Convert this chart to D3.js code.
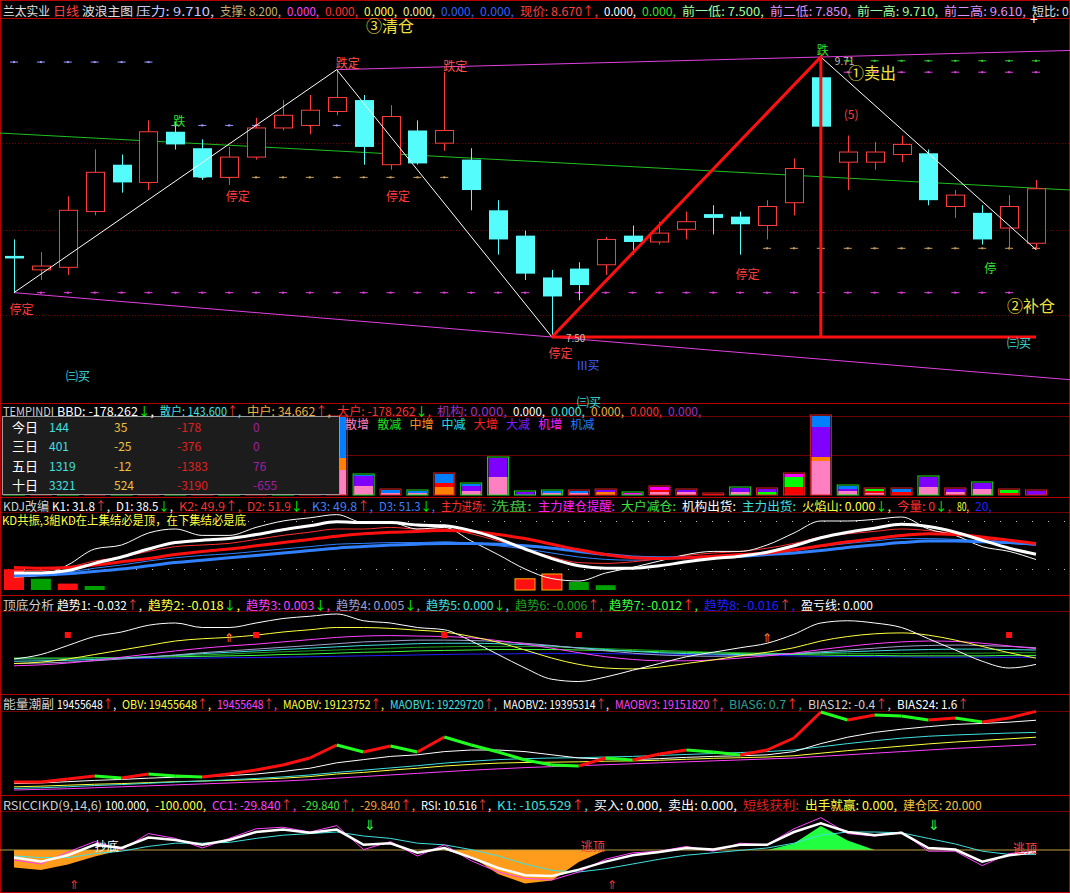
<!DOCTYPE html>
<html><head><meta charset="utf-8">
<script src="https://cdn.jsdelivr.net/npm/d3@7/dist/d3.min.js"></script>
<style>
body{margin:0;background:#000;}
svg{display:block;}
text{font-family:"Noto Sans CJK SC","Noto Sans",sans-serif;font-size:12px;}
</style></head><body>
<svg id="c" width="1070" height="893"></svg>
<script>
// ---------------- DATA ----------------
const opens =[8.14,8.03,8.05,8.49,8.86,8.72,9.12,8.99,8.76,8.92,9.15,9.17,9.28,9.37,8.86,9.13,9.03,8.90,8.50,8.30,7.97,8.04,8.07,8.30,8.25,8.35,8.47,8.45,8.38,8.56,9.55,8.88,8.88,8.94,8.95,8.53,8.48,8.36,8.24];
const highs =[8.27,8.17,8.61,8.98,8.94,9.21,9.20,9.06,9.00,9.23,9.37,9.41,9.61,9.41,9.33,9.21,9.59,8.99,8.58,8.34,8.03,8.09,8.29,8.38,8.41,8.49,8.54,8.49,8.58,8.91,9.71,9.09,9.04,9.09,8.98,8.66,8.54,8.62,8.74];
const lows  =[7.85,7.95,7.99,8.46,8.64,8.66,8.98,8.74,8.70,8.90,9.13,9.10,9.25,8.86,8.82,8.86,8.97,8.50,8.15,7.95,7.50,7.79,7.99,8.15,8.23,8.27,8.31,8.15,8.27,8.46,9.13,8.66,8.82,8.88,8.54,8.44,8.23,8.19,8.19];
const closes=[8.12,8.06,8.50,8.80,8.72,9.12,9.02,8.76,8.92,9.15,9.25,9.29,9.39,9.00,9.24,8.87,9.13,8.66,8.27,8.00,7.82,7.91,8.27,8.25,8.32,8.41,8.44,8.39,8.53,8.83,9.16,8.96,8.96,9.02,8.58,8.62,8.27,8.53,8.67];

const waveIdx=[0,12,20,30,38];
const waveVal=[7.85,9.61,7.50,9.71,8.19];
const greenIdx=[-0.55,39.3];
const greenVal=[9.11,8.66];
const levStart=[0,6,7,1,31,31,28];
const levEnd  =[5,12,16,37,38,38,38];
const levVal  =[9.67,9.17,8.76,7.85,9.59,9.68,8.20];

const tPink  =[5,4,6,3,5,4,3,6,4,5,6,8,25,9,2,2,0,4,18,0,2,2,0,0,3,3,0,3,0,0,34,4,2,0,8,3,6,0,0];
const tOrange=[0,2,0,0,3,0,0,0,2,0,0,3,12,0,0,0,8,0,0,0,0,0,3,0,0,0,0,0,0,0,4,0,0,0,0,0,0,0,0];
const tRed   =[0,0,2,0,0,0,2,0,0,0,0,0,0,0,0,0,4,0,0,0,0,0,0,0,2,0,1,0,0,8,0,0,2,3,0,0,0,2,0];
const tGreen =[0,0,0,2,0,0,0,0,0,0,0,0,0,0,0,0,0,0,0,0,0,0,0,0,0,0,0,0,3,10,0,0,2,0,0,0,0,3,0];
const tPurple=[3,2,4,2,3,5,2,3,2,4,3,5,0,10,0,0,0,5,19,3,0,0,2,0,0,2,0,4,3,0,30,2,0,0,10,3,6,0,4];
const tBlue  =[2,0,0,3,0,2,0,0,3,0,2,0,41,1,3,2,9,2,0,0,2,2,0,0,0,0,0,0,0,0,11,3,0,3,0,0,0,0,0];
const tMag   =[0,0,0,0,0,0,0,0,0,0,0,0,0,0,0,0,0,0,0,0,0,0,0,2,3,0,0,0,0,3,0,0,0,0,0,0,0,0,0];
const bbdUp  =[1,0,1,0,1,0,1,0,1,0,1,0,0,1,0,1,0,1,1,1,1,0,0,1,0,0,0,1,0,0,0,1,0,0,1,0,1,0,0];
const tableRows=["今日","三日","五日","十日"];
const tableRetail=[144,401,1319,3321];
const tableMid=[35,-25,-12,524];
const tableBig=[-178,-376,-1383,-3190];
const tableInst=[0,0,76,-655];
const legendNames=["散增","散减","中增","中减","大增","大减","机增","机减"];

const kdjK1=[10,12,25,45,50,65,70,62,62,72,80,84,88,78,78,70,72,55,38,20,8,5,15,22,30,38,42,42,50,65,80,80,82,85,70,62,48,42,31.8];
const kdjD1=[15,15,18,27,35,45,53,56,58,63,69,74,79,78,78,75,74,68,58,45,33,24,21,21,24,29,33,36,41,49,59,66,71,76,73,66,56,46,38.5];
const kdjK2=[18,18,22,30,35,42,48,50,52,57,62,66,70,70,72,70,70,64,55,45,35,28,27,29,33,37,40,42,46,52,60,64,67,70,68,64,58,53,49.9];
const kdjD2=[22,21,22,25,29,33,38,42,45,49,53,57,61,64,66,67,68,67,63,58,51,44,38,34,33,34,36,38,40,44,49,54,58,62,64,63,60,56,51.9];
const kdjK3=[12,13,16,21,25,30,34,37,39,42,45,48,51,52,53,53,54,52,49,45,40,35,32,31,32,34,36,38,40,43,48,52,55,58,58,57,55,52,49.8];
const kdjD3=[12,12.5,14,17,20,24,28,31,34,37,40,43,46,48,50,51,52,52,51,49,46,42,38,35,34,34,35,36,38,40,43,47,50,53,55,55,54,53,51.3];
const kdjVol=[26,-14,8,-5,0,0,0,0,0,0,0,0,0,0,0,0,0,0,0,14,20,-10,-6,0,0,0,0,0,0,0,0,0,0,0,0,0,0,0,0];

const t1=[-0.02,-0.01,0.01,0.03,0.04,0.055,0.06,0.05,0.05,0.06,0.07,0.075,0.08,0.065,0.06,0.05,0.045,0.02,-0.01,-0.04,-0.065,-0.07,-0.06,-0.045,-0.03,-0.015,-0.005,0.005,0.015,0.035,0.06,0.065,0.06,0.05,0.025,0.0,-0.025,-0.04,-0.032];
const t2=[-0.03,-0.027,-0.02,-0.01,0.0,0.01,0.02,0.025,0.028,0.033,0.04,0.045,0.05,0.05,0.048,0.044,0.04,0.03,0.017,0.0,-0.018,-0.032,-0.04,-0.042,-0.038,-0.03,-0.022,-0.013,-0.005,0.005,0.02,0.03,0.036,0.038,0.033,0.022,0.008,-0.006,-0.018];
const t3=[-0.035,-0.033,-0.029,-0.023,-0.016,-0.009,-0.002,0.004,0.009,0.013,0.018,0.023,0.028,0.031,0.032,0.031,0.03,0.027,0.021,0.013,0.004,-0.006,-0.015,-0.021,-0.024,-0.024,-0.022,-0.018,-0.013,-0.007,0.001,0.008,0.014,0.018,0.02,0.019,0.015,0.009,0.003];
const t4=[-0.03,-0.029,-0.027,-0.024,-0.02,-0.016,-0.011,-0.006,-0.002,0.002,0.006,0.01,0.014,0.018,0.02,0.022,0.022,0.021,0.019,0.015,0.01,0.004,-0.002,-0.007,-0.011,-0.013,-0.014,-0.013,-0.011,-0.008,-0.004,0.0,0.004,0.008,0.01,0.011,0.01,0.008,0.005];
const t5=[-0.025,-0.024,-0.023,-0.021,-0.018,-0.015,-0.012,-0.008,-0.005,-0.002,0.001,0.004,0.007,0.01,0.012,0.014,0.015,0.015,0.014,0.012,0.009,0.005,0.001,-0.003,-0.006,-0.008,-0.009,-0.01,-0.009,-0.008,-0.006,-0.004,-0.002,0.0,0.001,0.002,0.002,0.001,0.0];
const t6=[-0.02,-0.02,-0.019,-0.018,-0.017,-0.015,-0.013,-0.011,-0.009,-0.006,-0.004,-0.002,0.0,0.002,0.004,0.006,0.007,0.008,0.008,0.008,0.007,0.005,0.003,0.001,-0.001,-0.003,-0.005,-0.006,-0.007,-0.008,-0.008,-0.008,-0.008,-0.008,-0.007,-0.007,-0.007,-0.006,-0.006];
const t7=[-0.018,-0.018,-0.018,-0.017,-0.017,-0.016,-0.015,-0.014,-0.013,-0.012,-0.01,-0.009,-0.007,-0.005,-0.004,-0.002,-0.001,0.0,0.001,0.001,0.001,0.0,-0.001,-0.002,-0.004,-0.005,-0.006,-0.008,-0.009,-0.01,-0.011,-0.012,-0.012,-0.013,-0.013,-0.013,-0.013,-0.012,-0.012];
const t8=[-0.02,-0.02,-0.02,-0.02,-0.019,-0.019,-0.018,-0.018,-0.017,-0.017,-0.016,-0.015,-0.014,-0.013,-0.012,-0.011,-0.01,-0.009,-0.009,-0.008,-0.008,-0.008,-0.008,-0.009,-0.009,-0.01,-0.011,-0.012,-0.012,-0.013,-0.014,-0.014,-0.015,-0.015,-0.016,-0.016,-0.016,-0.016,-0.016];
const tdSquares=[2,9,16,21,37];
const tdArrows=[8,28];

const obv=[17.25,17.25,17.344,17.438,17.375,17.5,17.438,17.406,17.5,17.625,17.781,18.0,18.406,18.188,18.375,18.188,18.656,18.406,18.188,17.938,17.781,17.75,18.0,17.938,18.125,18.25,18.188,18.094,18.25,18.625,19.438,19.188,19.344,19.313,19.188,19.25,19.125,19.25,19.456];
const maobv=[17.1,17.12,17.15,17.18,17.2,17.23,17.26,17.28,17.3,17.33,17.37,17.42,17.5,17.55,17.62,17.68,17.75,17.8,17.84,17.86,17.87,17.88,17.9,17.91,17.93,17.96,17.99,18.01,18.03,18.07,18.15,18.23,18.3,18.37,18.44,18.5,18.55,18.6,18.65];
const maobv1=[17.05,17.07,17.1,17.14,17.17,17.21,17.25,17.28,17.32,17.36,17.41,17.47,17.55,17.62,17.69,17.76,17.84,17.9,17.95,17.98,18.0,18.01,18.03,18.05,18.08,18.11,18.14,18.17,18.2,18.25,18.35,18.45,18.54,18.62,18.68,18.72,18.75,18.78,18.8];
const maobv2=[17.2,17.22,17.26,17.3,17.33,17.37,17.4,17.42,17.45,17.5,17.58,17.68,17.85,17.95,18.05,18.1,18.2,18.25,18.25,18.2,18.1,18.0,17.97,17.95,17.98,18.02,18.05,18.07,18.1,18.2,18.45,18.65,18.8,18.9,18.98,19.05,19.08,19.12,19.18];
const maobv3=[17.0,17.02,17.04,17.07,17.1,17.13,17.16,17.19,17.22,17.25,17.28,17.32,17.37,17.42,17.47,17.52,17.57,17.62,17.66,17.7,17.73,17.76,17.79,17.82,17.85,17.88,17.91,17.94,17.97,18.0,18.05,18.1,18.15,18.2,18.25,18.3,18.34,18.38,18.42];

const rsiW=[28,23,31,44,40,53,50,44,50,60,63,59,63,44,46,34,40,28,15,6,5,13,23,31,35,40,38,44,44,60,71,60,56,59,40,38,23,31,35];
const rsiM=[25,20,35,48,38,58,52,40,52,64,66,60,68,38,48,30,44,24,10,2,0,10,26,34,36,42,36,46,44,64,78,58,55,60,36,36,18,33,36];
const rsiC=[30,28,28,33,36,42,46,46,47,52,56,58,60,55,52,46,44,38,30,20,12,10,14,20,26,31,34,37,40,46,56,60,60,59,52,45,36,32,32];
const ccFill=[-22,-25,-18,-8,0,0,0,0,0,0,0,0,0,0,0,0,0,-8,-30,-42,-38,-15,0,0,0,0,0,0,0,8,30,12,0,0,0,0,0,0,0];
const rsiDown=[13,34];
const rsiUp=[2,22];

// ---------------- DRAW ----------------
const svg=d3.select('#c');
const W=1070,H=893;
svg.append('rect').attr('width',W).attr('height',H).attr('fill','#000');
const N=opens.length;
const x=d3.scaleLinear().domain([0,N-1]).range([14,1036]);
const I=d3.range(N);
const RED='#ff3c3c', CYAN='#54fcfc';

function hline(yy,col,dash){svg.append('line').attr('x1',0).attr('x2',W).attr('y1',yy+0.5).attr('y2',yy+0.5).attr('stroke',col).attr('stroke-width',1).attr('stroke-dasharray',dash||null);}
function label(g,xp,yp,str,col,opt={}){
  const t=g.append('text').attr('x',xp).attr('y',yp).attr('fill',col).attr('dominant-baseline','central');
  if(opt.size) t.style('font-size',opt.size+'px');
  if(opt.anchor) t.attr('text-anchor',opt.anchor);
  if(opt.len) t.attr('textLength',opt.len).attr('lengthAdjust','spacingAndGlyphs');
  str.split(/([↑↓])/).forEach(p=>{ if(!p) return;
    const s=t.append('tspan').text(p);
    if(p==='↑') s.attr('fill','#ff3c3c'); else if(p==='↓') s.attr('fill','#00ff00');
  });
  return t;
}
function header(yy,segs){
  segs.forEach((s,k)=>{
    const nxt=segs[k+1];
    const opt={};
    if(nxt){ opt.len=Math.max(8,nxt[0]-s[0]-(/[,:]$/.test(s[1])?6:3)); }
    const t=label(svg,s[0],yy,s[1],s[2],opt);
    if(!nxt){ const w=t.node().getComputedTextLength(); const est=s[1].replace(/[^\x00-\x7f↑↓]/g,'').length*6+s[1].replace(/[\x00-\x7f↑↓]/g,'').length*12; if(w>est) t.attr('textLength',est).attr('lengthAdjust','spacingAndGlyphs'); }
  });
}

const frame='#b40000', grid='#6e0000';
[143,230,315].forEach(yy=>hline(yy,grid,'1,2'));
hline(18,frame);
[[403,416],[497,512],[595,611],[694,711],[795,811]].forEach(([a,b])=>{hline(a,frame);hline(b,grid);});
hline(455,grid);
svg.append('rect').attr('x',0.5).attr('y',0.5).attr('width',W-1).attr('height',H-1).attr('fill','none').attr('stroke',frame);

// ---------- main panel ----------
const y=d3.scaleLinear().domain([7.5,9.71]).range([337,57]);
const main=svg.append('g');
function extLine(i0,v0,i1,v1,xa,xb){
  const s=(v1-v0)/(i1-i0); const ia=x.invert(xa), ib=x.invert(xb);
  return [[xa,y(v0+s*(ia-i0))],[xb,y(v0+s*(ib-i0))]];
}
const line=d3.line();
main.append('path').attr('d',line(extLine(waveIdx[1],waveVal[1],waveIdx[3],waveVal[3],x(waveIdx[1]),W))).attr('stroke','#e040e0').attr('fill','none');
main.append('path').attr('d',line(extLine(waveIdx[0],waveVal[0],waveIdx[2],waveVal[2],x(waveIdx[0]),W))).attr('stroke','#e040e0').attr('fill','none');
main.append('path').attr('d',line(greenIdx.map((d,i)=>[x(d),y(greenVal[i])]))).attr('stroke','#20c020').attr('fill','none');

const levCols=['#9a9aff','#9a9aff','#c8a060','#e040e0','#e040e0','#30d030','#c8a060'];
levStart.forEach((s,k)=>{
  for(let i=s;i<=levEnd[k];i++){
    main.append('line').attr('x1',x(i)-4).attr('x2',x(i)+4).attr('y1',y(levVal[k])).attr('y2',y(levVal[k])).attr('stroke',levCols[k]).attr('stroke-width',1);
    main.append('rect').attr('x',x(i)-1).attr('y',y(levVal[k])-1).attr('width',2).attr('height',2).attr('fill',levCols[k]);
  }
});

I.forEach(i=>{
  const up=closes[i]>=opens[i];
  const col=up?RED:CYAN;
  const top=y(Math.max(opens[i],closes[i])), bot=y(Math.min(opens[i],closes[i]));
  const cx=Math.round(x(i))+0.5;
  if(up){
    main.append('line').attr('x1',cx).attr('x2',cx).attr('y1',y(highs[i])).attr('y2',top).attr('stroke',col);
    main.append('line').attr('x1',cx).attr('x2',cx).attr('y1',bot).attr('y2',y(lows[i])).attr('stroke',col);
    main.append('rect').attr('x',cx-9).attr('y',top).attr('width',18).attr('height',Math.max(1,bot-top)).attr('fill','#000').attr('stroke',col);
  } else {
    main.append('line').attr('x1',cx).attr('x2',cx).attr('y1',y(highs[i])).attr('y2',y(lows[i])).attr('stroke',col);
    main.append('rect').attr('x',cx-9.5).attr('y',top).attr('width',19).attr('height',Math.max(2,bot-top)).attr('fill',col);
  }
});

const wp=waveIdx.map((d,i)=>[x(d),y(waveVal[i])]);
main.append('path').attr('d',line(wp.slice(0,3))).attr('stroke','#fff').attr('fill','none');
main.append('path').attr('d',line(wp.slice(3,5))).attr('stroke','#fff').attr('fill','none');
main.append('path').attr('d',line([wp[2],wp[3],[wp[3][0],wp[2][1]]])).attr('stroke','#ff1010').attr('stroke-width',3).attr('fill','none');
main.append('path').attr('d',line([wp[2],[x(38),wp[2][1]]])).attr('stroke','#ff1010').attr('stroke-width',3).attr('fill','none');

const ann=[[0,'停定',-0.1,-15],[8,'停定',-0.05,-10],[14,'停定',-0.1,-25],[20,'停定',-0.05,-15],[27,'停定',-0.1,-18]];
ann.forEach(a=>label(main,x(a[0])+a[2]*26-2,y(lows[a[0]])-a[3],a[1],RED));
label(main,x(12)-1,62,'跌定','#ff5050');
label(main,x(16)-1,65,'跌定','#ff5050');
label(main,x(6)-2,y(highs[6])-2,'跌','#30e030');
label(main,x(30)-4,y(highs[30])-8,'跌','#30e030');
label(main,x(36)+2,y(lows[36])+22,'停','#30e030');
label(main,x(31)-4,113,'(5)','#ff3c3c');
label(main,x(20)+14,y(7.5),'7.50','#c0c0c0',{size:10});
label(main,x(30)+14,y(9.71)+3,'9.71','#c0c0c0',{size:10});
label(main,366,25,'③清仓','#f0e040',{size:16});
label(main,848,72,'①卖出','#f0e040',{size:16});
label(main,1007,305,'②补仓','#f0e040',{size:16});
label(main,1007,342,'㈢买','#40e0e0');
label(main,66,375,'㈢买','#40e0e0');
label(main,577,364,'III买','#4060ff');
label(main,577,401,'㈢买','#40e0e0');
label(main,1030,19,'+','#fff',{size:14});

header(10,[[3,'兰太实业','#e0e0e0'],[53,'日线','#ff4040'],[82,'波浪主图','#e0e0e0'],[136,'压力: 9.710,','#c8c8ff'],[220,'支撑: 8.200,','#c8b070'],
 [287,'0.000,','#ff40ff'],[325,'0.000,','#ff3030'],[364,'0.000,','#ffff40'],[403,'0.000,','#f0f0a0'],[441,'0.000,','#3060ff'],[480,'0.000,','#3060ff'],
 [520,'现价: 8.670↑,','#ff4040'],[604,'0.000,','#ffffff'],[642,'0.000,','#30e030'],[682,'前一低: 7.500,','#a0ffa0'],[770,'前二低: 7.850,','#e090ff'],
 [857,'前一高: 9.710,','#a0ffa0'],[944,'前二高: 9.610,','#e090ff'],[1032,'短比: 0','#e0e0e0']]);

// ---------- TEMPINDI ----------
const yT=d3.scaleLinear().domain([0,78]).range([495,417]);
const segs=[[tPink,'#ff80c0'],[tOrange,'#ff8000'],[tRed,'#ff0000'],[tGreen,'#00ff00'],[tMag,'#ff00ff'],[tPurple,'#8000ff'],[tBlue,'#0080ff']];
const tg=svg.append('g');
I.forEach(i=>{
  let acc=0;
  segs.forEach(([arr,col])=>{ const v=arr[i]; if(v>0){ tg.append('rect').attr('x',x(i)-9.5).attr('width',19).attr('y',yT(acc+v)).attr('height',yT(acc)-yT(acc+v)).attr('fill',col); acc+=v; }});
  if(acc>0) tg.append('rect').attr('x',x(i)-10.5).attr('width',21).attr('y',yT(acc)-1).attr('height',yT(0)-yT(acc)+1).attr('fill','none').attr('stroke',bbdUp[i]?'#20e020':'#e02020');
});
const legCols=['#ff80c0','#20e020','#ff9020','#20e0e0','#ff2020','#8020ff','#ff20ff','#2080ff'];
legendNames.forEach((n,k)=>label(svg,345+k*32.2,423,n,legCols[k]));
svg.append('rect').attr('x',2.5).attr('y',416.5).attr('width',337).attr('height',78).attr('fill','#1c1c1c').attr('stroke','#9a9a9a');
tableRows.forEach((r,k)=>{
  const yy=426+k*19.3;
  label(svg,12,yy,r,'#ffffff',{size:13});
  label(svg,49,yy,String(tableRetail[k]),'#40e0e0');
  label(svg,114,yy,String(tableMid[k]),'#f0c040');
  label(svg,177,yy,String(tableBig[k]),'#e02020');
  label(svg,253,yy,String(tableInst[k]),'#a020a0');
});
header(410,[[3,'TEMPINDI','#d0d0d0'],[57,'BBD: -178.262↓,','#ffffff'],[160,'散户: 143.600↑,','#40e0e0'],[247,'中户: 34.662↑,','#f0b040'],
 [337,'大户: -178.262↓,','#ff3030'],[437,'机构: 0.000,','#a030c0'],[513,'0.000,','#ffffff'],[551,'0.000,','#40e0e0'],[591,'0.000,','#f0b040'],[630,'0.000,','#ff3030'],[668,'0.000,','#a030c0']]);

// ---------- KDJ ----------
const yK=d3.scaleLinear().domain([0,100]).range([585,505]);
const kl=d3.line().x((d,i)=>x(i)).y(d=>yK(d)).curve(d3.curveMonotoneX);
const kg=svg.append('g');
[20,80].forEach(v=>{ for(let xx=8;xx<W;xx+=16) kg.append('rect').attr('x',xx).attr('y',yK(v)).attr('width',1).attr('height',1).attr('fill','#c0c0c0'); });
I.forEach(i=>{ const v=kdjVol[i]; if(v!==0){ const h=Math.abs(v)*0.8; kg.append('rect').attr('x',x(i)-10).attr('width',20).attr('y',590-h).attr('height',h).attr('fill',v>0?'#ff1010':'#00a000').attr('stroke',(i>=19&&v>0)?'#ffb000':'none'); }});
[[kdjK3,'#3080ff',1],[kdjK2,'#ff3030',1],[kdjK1,'#ffffff',1],[kdjD3,'#3080ff',3],[kdjD2,'#ff1010',3],[kdjD1,'#ffffff',3]].forEach(([a,c,w])=>kg.append('path').attr('d',kl(a)).attr('stroke',c).attr('stroke-width',w).attr('fill','none'));
header(505,[[3,'KDJ改编','#d0d0d0'],[52,'K1: 31.8↑,','#ffffff'],[116,'D1: 38.5↓,','#ffffff'],[179,'K2: 49.9↑,','#ff3030'],[247,'D2: 51.9↓,','#ff3030'],
 [312,'K3: 49.8↑,','#4080ff'],[379,'D3: 51.3↓,','#4080ff'],[441,'主力进场:','#ff3030'],[491,'洗盘:','#40c040'],[538,'主力建仓提醒:','#ff20ff'],
 [621,'大户减仓:','#40e040'],[682,'机构出货:','#ffffff'],[742,'主力出货:','#40e0e0'],[802,'火焰山: 0.000↓,','#ffff40'],[897,'今量: 0↓,','#ff3030'],[957,'80,','#ffff40'],[975,'20,','#2020ff']]);
label(svg,2,519,'KD共振,3組KD在上集结必是顶，在下集结必是底','#ffff40',{len:244});

// ---------- 顶底分析 ----------
const yD=d3.scaleLinear().domain([-0.1,0.1]).range([695,605]);
const dl=d3.line().x((d,i)=>x(i)).y(d=>yD(d)).curve(d3.curveMonotoneX);
const dg=svg.append('g');
[[t8,'#2020ff'],[t7,'#40ff40'],[t6,'#20a020'],[t5,'#40e0e0'],[t4,'#a0a0d0'],[t3,'#ff40ff'],[t2,'#ffff40'],[t1,'#ffffff']].forEach(([a,c])=>dg.append('path').attr('d',dl(a)).attr('stroke',c).attr('fill','none'));
tdSquares.forEach(i=>dg.append('rect').attr('x',x(i)-3).attr('y',632).attr('width',6).attr('height',6).attr('fill','#ff1010'));
tdArrows.forEach(i=>label(dg,x(i),636,'⇑','#ff8040',{anchor:'middle'}));
header(604,[[3,'顶底分析','#d0d0d0'],[57,'趋势1: -0.032↑,','#ffffff'],[148,'趋势2: -0.018↓,','#ffff40'],[246,'趋势3: 0.003↓,','#ff40ff'],[336,'趋势4: 0.005↓,','#a0a0d0'],
 [426,'趋势5: 0.000↓,','#40e0e0'],[515,'趋势6: -0.006↑,','#20a020'],[609,'趋势7: -0.012↑,','#40ff40'],[704,'趋势8: -0.016↑,','#2020ff'],[801,'盈亏线: 0.000','#ffffff']]);

// ---------- 能量潮 ----------
const yO=d3.scaleLinear().domain([17.0,19.5]).range([790,710]);
const og=svg.append('g');
const ol=d3.line().x((d,i)=>x(i)).y(d=>yO(d));
[[maobv3,'#ff40ff'],[maobv,'#ffff40'],[maobv1,'#40e0e0'],[maobv2,'#ffffff']].forEach(([a,c])=>og.append('path').attr('d',ol(a)).attr('stroke',c).attr('fill','none'));
I.slice(1).forEach(i=>og.append('line').attr('x1',x(i-1)).attr('y1',yO(obv[i-1])).attr('x2',x(i)).attr('y2',yO(obv[i])).attr('stroke',obv[i]>=obv[i-1]?'#ff1010':'#20ff20').attr('stroke-width',3));
header(703,[[3,'能量潮副','#d0d0d0'],[57,'19455648↑,','#ffffff'],[122,'OBV: 19455648↑,','#ffff40'],[217,'19455648↑,','#ff40ff'],[283,'MAOBV: 19123752↑,','#ffff40'],
 [390,'MAOBV1: 19229720↑,','#40e0e0'],[503,'MAOBV2: 19395314↑,','#ffffff'],[615,'MAOBV3: 19151820↑,','#ff40ff'],[729,'BIAS6: 0.7↑,','#30a090'],[808,'BIAS12: -0.4↑,','#d0d0d0'],[897,'BIAS24: 1.6↑','#ffffff']]);

// ---------- RSICCIKD ----------
const yR=d3.scaleLinear().domain([0,100]).range([880,800]);
const base=37.5;
const rg=svg.append('g');
rg.append('path').attr('d',d3.area().x((d,i)=>x(i)).y0(yR(base)).y1(d=>yR(base+Math.min(0,d)))(ccFill)).attr('fill','#ff9c1c');
rg.append('path').attr('d',d3.area().x((d,i)=>x(i)).y0(yR(base)).y1(d=>yR(base+Math.max(0,d)))(ccFill)).attr('fill','#20ff40');
rg.append('line').attr('x1',0).attr('x2',W).attr('y1',yR(base)).attr('y2',yR(base)).attr('stroke','#c0a040');
const rl=d3.line().x((d,i)=>x(i)).y(d=>yR(d));
[[rsiC,'#40e0e0',1],[rsiM,'#ff40ff',1],[rsiW,'#ffffff',2.5]].forEach(([a,c,w])=>rg.append('path').attr('d',rl(a)).attr('stroke',c).attr('stroke-width',w).attr('fill','none'));
rsiDown.forEach(i=>label(rg,x(i)+6,824,'⇓','#40ff40',{anchor:'middle',size:14}));
rsiUp.forEach(i=>label(rg,x(i)+6,883,'⇑','#ff3030',{anchor:'middle',size:12}));
label(rg,x(3),845,'抄底','#ffffff');
label(rg,x(21)+2,845,'逃顶','#ff4040');
label(rg,x(37)+4,847,'逃顶','#ff4040');
header(804,[[3,'RSICCIKD(9,14,6)','#d0d0d0'],[105,'100.000,','#ffffff'],[155,'-100.000,','#ffff40'],[212,'CC1: -29.840↑,','#ff40ff'],[302,'-29.840↑,','#40e040'],
 [360,'-29.840↑,','#f0a040'],[421,'RSI: 10.516↑,','#ffffff'],[497,'K1: -105.529↑,','#40e0e0'],[594,'买入: 0.000,','#ffffff'],[668,'卖出: 0.000,','#ffffff'],
 [743,'短线获利:','#e02020'],[805,'出手就赢: 0.000,','#ffff40'],[903,'建仓区: 20.000','#f0c040']]);
</script></body></html>
